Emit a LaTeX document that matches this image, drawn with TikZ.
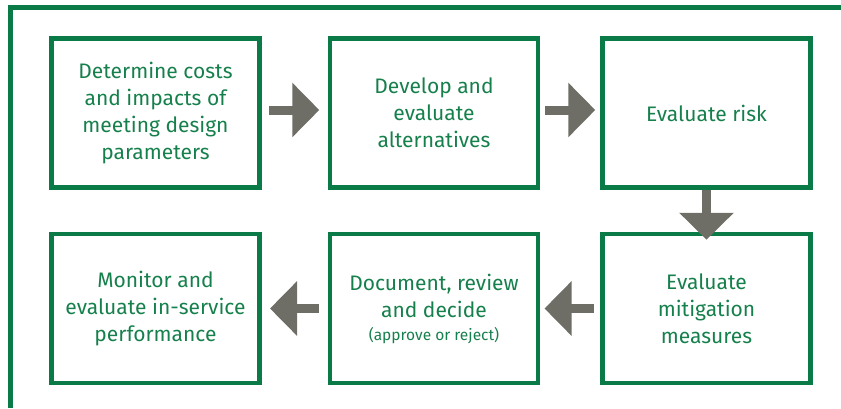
\documentclass[tikz,border=0pt]{standalone}
\usepackage{fontspec}
\setmainfont{Fira Sans}
\usetikzlibrary{positioning,arrows.meta}

\definecolor{boxgreen}{RGB}{10,122,70}
\definecolor{textgreen}{RGB}{22,128,76}
\definecolor{arrowgray}{RGB}{110,110,102}

\begin{document}
\begin{tikzpicture}
    [x=1pt,y=-1pt,
     stepbox/.style={rectangle,draw=boxgreen,line width=4.5pt,minimum width=208pt,
       minimum height=149pt,inner sep=0pt,align=center,text=textgreen,
       font=\fontsize{21}{27}\selectfont},
     flow/.style={draw=arrowgray,line width=9pt,>={Triangle[width=53pt,length=27pt]}}]

    \useasboundingbox (0,0) rectangle (841,408);

    % outer frame
    \draw[boxgreen,line width=4.5pt] (10.5,408) -- (10.5,7.5) -- (841,7.5);

    \node[stepbox] (costs) at (155.5,113) {Determine costs\\and impacts of\\meeting design\\parameters};

    \node[stepbox] (alternatives) [right=66pt of costs] {Develop and\\evaluate\\alternatives}
      edge [flow,<-,shorten <=8.5pt,shorten >=7.5pt,transform canvas={yshift=3pt}] (costs);

    \node[stepbox] (risk) [right=60pt of alternatives] {Evaluate risk}
      edge [flow,<-,shorten <=5pt,shorten >=5pt,transform canvas={yshift=3pt}] (alternatives);

    \node[stepbox] (mitigation) [below=42pt of risk] {Evaluate\\mitigation\\measures}
      edge [flow,<-,shorten <=-8pt,shorten >=0pt] (risk);

    \node[stepbox] (decide) [left=60pt of mitigation] {Document, review\\and decide\\[-4pt]{\fontsize{15.5}{20}\selectfont(approve or reject)}}
      edge [flow,<-,shorten <=4.25pt,shorten >=6.5pt] (mitigation);

    \node[stepbox] (monitor) [left=66pt of decide] {Monitor and\\evaluate in-service\\performance}
      edge [flow,<-,shorten <=8.25pt,shorten >=8.5pt] (decide);
\end{tikzpicture}
\end{document}
